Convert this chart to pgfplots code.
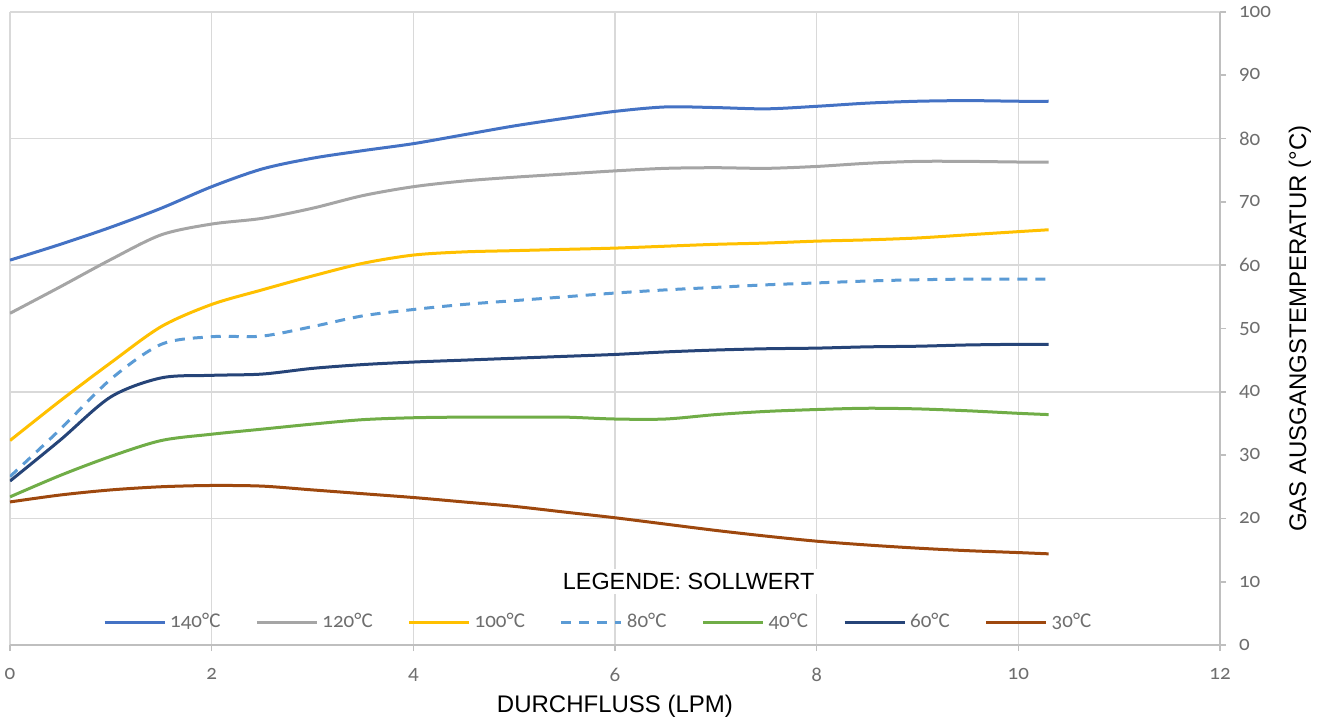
\documentclass[border=0pt]{standalone}
\usepackage{fontspec}
\setmainfont{Liberation Sans}
\newfontfamily\calibri[Numbers=OldStyle]{Carlito}
\usepackage{pgfplots}
\pgfplotsset{compat=1.18}

\definecolor{c140}{RGB}{68,114,196}
\definecolor{c120}{RGB}{165,165,165}
\definecolor{c100}{RGB}{255,192,0}
\definecolor{c80}{RGB}{91,155,213}
\definecolor{c40}{RGB}{112,173,71}
\definecolor{c60}{RGB}{38,68,120}
\definecolor{c30}{RGB}{158,72,14}
\definecolor{gridgray}{RGB}{217,217,217}
\definecolor{axgray}{RGB}{191,191,191}
\definecolor{ticktext}{RGB}{110,110,110}

\begin{document}
\begin{tikzpicture}
\path[use as bounding box] (-5pt,-38.5pt) rectangle (658.5pt,322.5pt);
\begin{axis}[
    at={(0,0)}, anchor=south west,
    scale only axis,
    width=605pt, height=316.5pt,
    xmin=0, xmax=12, ymin=0, ymax=100,
    axis x line*=bottom,
    axis y line*=right,
    axis line style={draw=axgray, line width=0.8pt},
    xtick={0,2,...,12},
    ytick={0,20,...,100},
    extra y ticks={10,30,50,70,90},
    extra y tick style={grid=none},
    xmajorgrids, ymajorgrids,
    major grid style={draw=gridgray, line width=0.8pt},
    tick align=outside,
    major tick length=3pt,
    tick style={draw=axgray, line width=0.8pt},
    /pgf/number format/assume math mode=true,
    ticklabel style={font=\calibri\fontsize{10.5}{10.5}\selectfont, text=ticktext},
    xticklabel style={yshift=-5pt},
    yticklabel style={xshift=3pt},
    xlabel={DURCHFLUSS (LPM)},
    ylabel={GAS AUSGANGSTEMPERATUR (°C)},
    every axis x label/.style={at={(axis description cs:0.5,0)}, yshift=-30.5pt, anchor=center, font=\fontsize{12}{12}\selectfont},
    every axis y label/.style={at={(axis description cs:1.066,0.5)}, rotate=90, anchor=center, font=\fontsize{12}{12}\selectfont},
    legend columns=7,
    legend style={at={(axis description cs:0.487,0.036)}, anchor=center, draw=none, fill=none,
        font=\calibri\fontsize{10.5}{10.5}\selectfont, text=ticktext,
        /tikz/every even column/.append style={column sep=15.5pt}},
    legend cell align=left,
    legend image code/.code={\draw[#1] (0pt,0pt) -- (30pt,0pt);},
    every axis plot/.append style={line width=1.5pt, smooth},
]

\addplot[c140] coordinates {
(0,60.8) (0.5,63.3) (1,66) (1.5,69) (2,72.4) (2.5,75.2) (3,76.9) (3.5,78.1) (4,79.2) (4.5,80.6) (5,82) (5.5,83.2) (6,84.3) (6.5,85) (7,84.9) (7.5,84.7) (8,85.1) (8.5,85.6) (9,85.9) (9.5,86) (10,85.9) (10.3,85.9)};
\addlegendentry{140°C}

\addplot[c120] coordinates {
(0,52.4) (0.5,56.6) (1,60.9) (1.5,64.8) (2,66.5) (2.5,67.4) (3,69) (3.5,71) (4,72.4) (4.5,73.3) (5,73.9) (5.5,74.4) (6,74.9) (6.5,75.3) (7,75.4) (7.5,75.3) (8,75.6) (8.5,76.1) (9,76.4) (9.5,76.4) (10,76.3) (10.3,76.3)};
\addlegendentry{120°C}

\addplot[c100] coordinates {
(0,32.3) (0.5,38.6) (1,44.6) (1.5,50.3) (2,53.8) (2.5,56.1) (3,58.3) (3.5,60.3) (4,61.6) (4.5,62.1) (5,62.3) (5.5,62.5) (6,62.7) (6.5,63) (7,63.3) (7.5,63.5) (8,63.8) (8.5,64) (9,64.3) (9.5,64.8) (10,65.3) (10.3,65.6)};
\addlegendentry{100°C}

\addplot[c80, dash pattern=on 5pt off 4pt] coordinates {
(0,26.6) (0.5,34.1) (1,42) (1.5,47.5) (2,48.7) (2.5,48.8) (3,50.3) (3.5,52) (4,53) (4.5,53.8) (5,54.4) (5.5,55) (6,55.6) (6.5,56.1) (7,56.5) (7.5,56.9) (8,57.2) (8.5,57.5) (9,57.7) (9.5,57.8) (10,57.8) (10.3,57.8)};
\addlegendentry{80°C}

\addplot[c40] coordinates {
(0,23.4) (0.5,26.8) (1,29.8) (1.5,32.3) (2,33.3) (2.5,34.1) (3,34.9) (3.5,35.6) (4,35.9) (4.5,36) (5,36) (5.5,36) (6,35.7) (6.5,35.7) (7,36.4) (7.5,36.9) (8,37.2) (8.5,37.4) (9,37.3) (9.5,37) (10,36.6) (10.3,36.4)};
\addlegendentry{40°C}

\addplot[c60] coordinates {
(0,25.9) (0.5,32.4) (1,39.2) (1.5,42.2) (2,42.6) (2.5,42.8) (3,43.7) (3.5,44.3) (4,44.7) (4.5,45) (5,45.3) (5.5,45.6) (6,45.9) (6.5,46.3) (7,46.6) (7.5,46.8) (8,46.9) (8.5,47.1) (9,47.2) (9.5,47.4) (10,47.5) (10.3,47.5)};
\addlegendentry{60°C}

\addplot[c30] coordinates {
(0,22.6) (0.5,23.7) (1,24.5) (1.5,25) (2,25.2) (2.5,25.1) (3,24.5) (3.5,23.9) (4,23.3) (4.5,22.6) (5,21.9) (5.5,21) (6,20.1) (6.5,19.1) (7,18.1) (7.5,17.2) (8,16.4) (8.5,15.8) (9,15.3) (9.5,14.9) (10,14.6) (10.3,14.4)};
\addlegendentry{30°C}

\node[fill=white, inner sep=2pt, font=\fontsize{11.7}{12}\selectfont] at (axis cs:6.73,10) {LEGENDE: SOLLWERT};
\end{axis}
\end{tikzpicture}
\end{document}
